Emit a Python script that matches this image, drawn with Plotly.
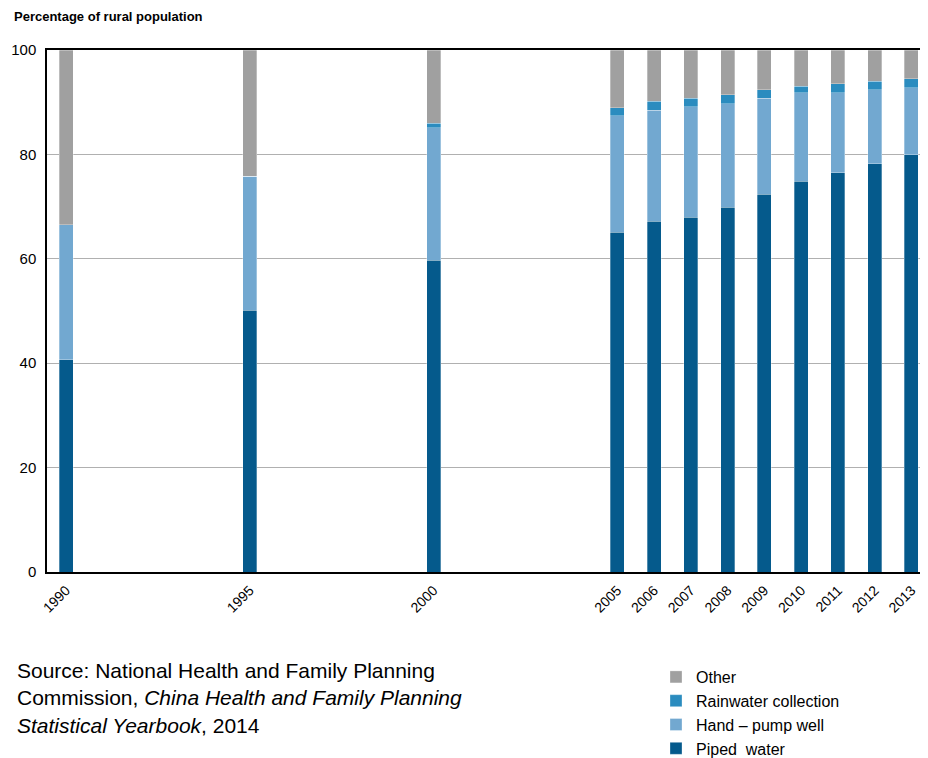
import plotly.graph_objects as go

years = [1990, 1995, 2000, 2005, 2006, 2007, 2008, 2009, 2010, 2011, 2012, 2013]
piped = [40.7, 50.1, 59.7, 65.1, 67.2, 68.0, 69.9, 72.4, 74.9, 76.5, 78.2, 79.9]
hand_pump = [25.8, 25.7, 25.4, 22.3, 21.3, 21.1, 19.8, 18.4, 16.9, 15.3, 14.2, 12.9]
rainwater = [0.0, 0.0, 0.9, 1.5, 1.7, 1.7, 1.7, 1.6, 1.3, 1.7, 1.6, 1.7]
other = [33.5, 24.2, 14.0, 11.1, 9.8, 9.2, 8.6, 7.6, 6.9, 6.5, 6.0, 5.5]

series = [
    ("Piped  water", piped, "#055a8c"),
    ("Hand \u2013 pump well", hand_pump, "#72a8d0"),
    ("Rainwater collection", rainwater, "#2b8cbf"),
    ("Other", other, "#a0a0a0"),
]

fig = go.Figure()
for name, vals, col in series:
    fig.add_trace(go.Bar(
        x=years, y=vals, name=name, width=0.38,
        marker=dict(color=col, line=dict(width=0.5, color="rgba(255,255,255,0.6)")),
    ))

# the page body has an 8px margin, so the figure is drawn 8px smaller
W = 881.0
H = 522.0
L, T, B = 39, 42, 564  # plot-area left, top, bottom in figure pixels
fig.update_layout(
    width=920, height=750,
    barmode="stack",
    plot_bgcolor="white", paper_bgcolor="white",
    margin=dict(l=L, r=0, t=T, b=750 - B, autoexpand=False),
    font=dict(family="Arial, Liberation Sans, sans-serif", color="#000"),
    showlegend=True,
    legend=dict(
        x=(648 - L) / W, y=-(652 - B) / H, xanchor="left", yanchor="top",
        traceorder="reversed", font=dict(size=16),
        itemwidth=30, tracegroupgap=0, bgcolor="rgba(0,0,0,0)",
    ),
    xaxis=dict(
        range=[1989.48, 2013.45], automargin=False,
        tickvals=years, ticktext=[str(y) for y in years],
        tickangle=-45, tickfont=dict(size=14), ticklabelstandoff=3,
        showgrid=False, showline=True, linecolor="black", linewidth=1.5,
        mirror=True, ticks="", zeroline=False,
    ),
    yaxis=dict(
        range=[0, 100], tickvals=[0, 20, 40, 60, 80, 100], automargin=False,
        tickfont=dict(size=15), showgrid=True, gridcolor="#b0b0b0", gridwidth=1,
        showline=True, linecolor="black", linewidth=1.5, ticks="", zeroline=False,
        ticklabelstandoff=6,
    ),
    annotations=[
        dict(text="<b>Percentage of rural population</b>", xref="paper", yref="paper",
             x=(4 - L) / W, y=1 + (T - 9) / H, xanchor="left", yanchor="middle",
             showarrow=False, font=dict(size=13)),
        dict(text="Source: National Health and Family Planning<br>Commission, <i>China Health and Family Planning</i><br><i>Statistical Yearbook</i>, 2014",
             xref="paper", yref="paper", x=(7 - L) / W, y=-(649 - B) / H,
             xanchor="left", yanchor="top", align="left", showarrow=False,
             font=dict(size=21)),
    ],
)

fig.write_html("out.html")
